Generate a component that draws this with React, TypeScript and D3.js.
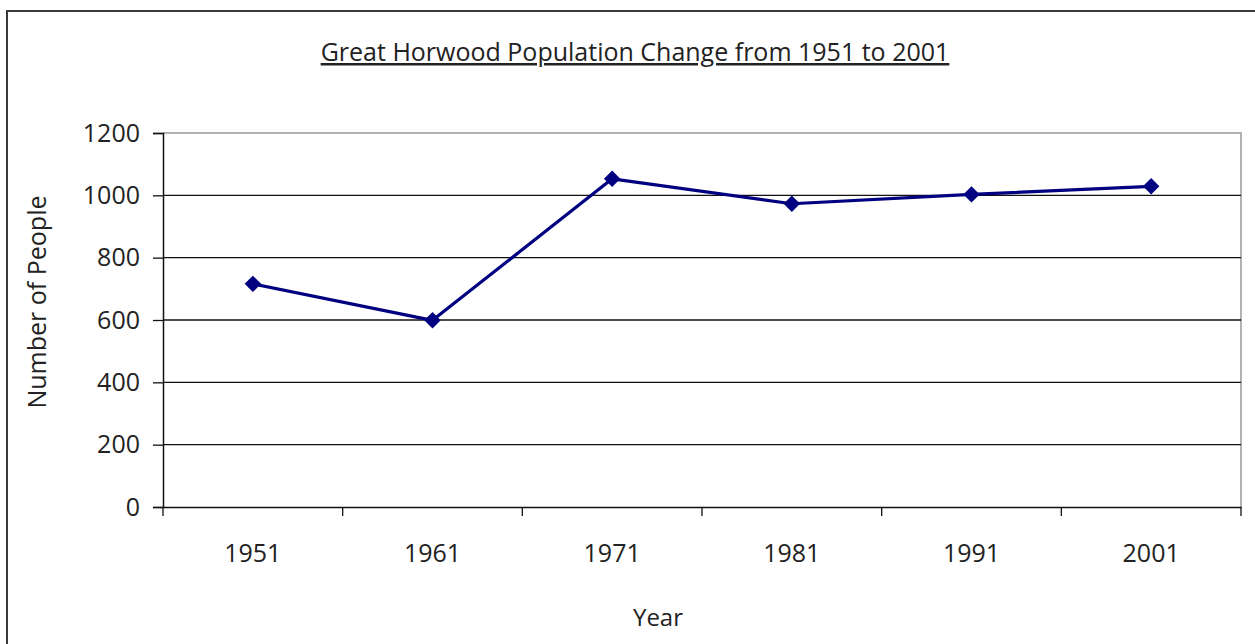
import React, { useEffect, useRef } from 'react';
import * as d3 from 'd3';

const years = ['1951', '1961', '1971', '1981', '1991', '2001'];
const population = [716, 599, 1053, 973, 1003, 1029];
const yTicks = [0, 200, 400, 600, 800, 1000, 1200];

const W = 1255;
const H = 644;
const FONT = '"Open Sans", "Noto Sans", sans-serif';

const App: React.FC = () => {
  const svgRef = useRef<SVGSVGElement | null>(null);

  useEffect(() => {
    if (!svgRef.current) return;
    const svg = d3.select(svgRef.current);
    svg.selectAll('*').remove();

    const left = 163, right = 1241, top = 133, bottom = 507;

    const x = d3.scaleBand<string>().domain(years).range([left, right]);
    const y = d3.scaleLinear().domain([0, 1200]).range([bottom, top]);

    // outer frame, runs off the right and bottom like the screenshot
    svg.append('rect')
      .attr('x', 7).attr('y', 11)
      .attr('width', W).attr('height', H)
      .attr('fill', 'white')
      .attr('stroke', '#3a3a3a')
      .attr('stroke-width', 2);

    // title
    svg.append('text')
      .attr('x', 635).attr('y', 61)
      .attr('text-anchor', 'middle')
      .style('font-family', FONT)
      .style('font-size', '25px')
      .style('fill', '#222')
      .style('text-decoration', 'underline')
      .text('Great Horwood Population Change from 1951 to 2001');

    // plot frame (top/right in grey)
    svg.append('path')
      .attr('d', `M${left},${top}H${right}V${bottom}`)
      .attr('fill', 'none')
      .attr('stroke', '#9a9a9a')
      .attr('stroke-width', 1.5);

    // gridlines
    svg.append('g')
      .selectAll('line')
      .data(yTicks.filter(t => t > 0 && t < 1200))
      .enter().append('line')
        .attr('x1', left).attr('x2', right)
        .attr('y1', d => y(d)).attr('y2', d => y(d))
        .attr('stroke', '#111')
        .attr('stroke-width', 1.3);

    // y axis
    const yAxis = svg.append('g')
      .attr('transform', `translate(${left},0)`)
      .call(d3.axisLeft(y).tickValues(yTicks).tickSize(10).tickPadding(13).tickFormat(d3.format('d')));
    yAxis.select('.domain').attr('stroke', '#111').attr('stroke-width', 1.5);
    yAxis.selectAll('.tick line').attr('stroke', '#111').attr('stroke-width', 1.3);
    yAxis.selectAll('.tick text')
      .style('font-family', FONT)
      .style('font-size', '25px')
      .attr('fill', '#222');

    // x axis: labels centred in bands, ticks on band edges
    const xAxis = svg.append('g')
      .attr('transform', `translate(0,${bottom})`)
      .call(d3.axisBottom(x).tickSize(0).tickPadding(37));
    xAxis.select('.domain').attr('stroke', '#111').attr('stroke-width', 1.5);
    xAxis.selectAll('.tick text')
      .style('font-family', FONT)
      .style('font-size', '25px')
      .attr('fill', '#222');

    const edges = years.map(yr => x(yr) as number).concat([right]);
    svg.append('g')
      .selectAll('line')
      .data(edges)
      .enter().append('line')
        .attr('x1', d => d).attr('x2', d => d)
        .attr('y1', bottom).attr('y2', bottom + 9)
        .attr('stroke', '#111')
        .attr('stroke-width', 1.3);

    // axis titles
    svg.append('text')
      .attr('transform', 'translate(46,302) rotate(-90)')
      .attr('text-anchor', 'middle')
      .style('font-family', FONT)
      .style('font-size', '25px')
      .style('fill', '#222')
      .text('Number of People');

    svg.append('text')
      .attr('x', 658).attr('y', 626)
      .attr('text-anchor', 'middle')
      .style('font-family', FONT)
      .style('font-size', '24px')
      .style('fill', '#222')
      .text('Year');

    // series
    const cx = (i: number) => (x(years[i]) as number) + x.bandwidth() / 2;
    const line = d3.line<number>()
      .x((_, i) => cx(i))
      .y(d => y(d));

    svg.append('path')
      .datum(population)
      .attr('d', line)
      .attr('fill', 'none')
      .attr('stroke', '#000080')
      .attr('stroke-width', 3.2)
      .attr('stroke-linejoin', 'round');

    const diamond = d3.symbol().type(d3.symbolSquare).size(135);
    svg.append('g')
      .selectAll('path')
      .data(population)
      .enter().append('path')
        .attr('d', diamond)
        .attr('transform', (d, i) => `translate(${cx(i)},${y(d)}) rotate(45)`)
        .attr('fill', '#000080');
  }, []);

  return (
    <svg
      ref={svgRef}
      width={W}
      height={H}
      style={{ position: 'absolute', left: 0, top: 0, background: 'white' }}
    />
  );
};

export default App;
